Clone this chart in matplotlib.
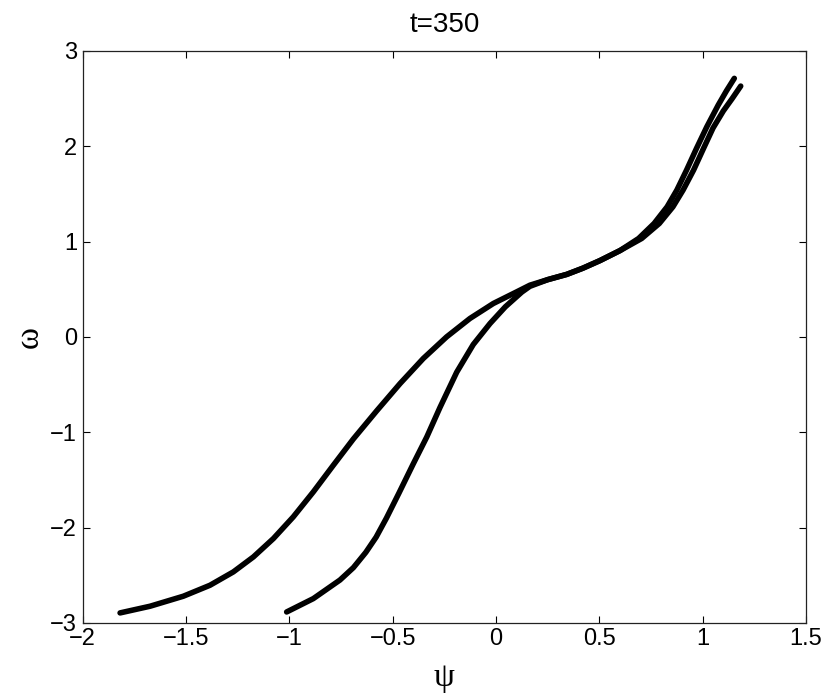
import matplotlib
matplotlib.use("Agg")
import matplotlib.pyplot as plt

# outer branch (starts at psi ~ -1.8)
psi_a = [-1.819, -1.674, -1.513, -1.384, -1.271, -1.174, -1.077, -0.981, -0.884, -0.787,
         -0.690, -0.577, -0.464, -0.352, -0.239, -0.126, -0.013, 0.100, 0.164, 0.25,
         0.342, 0.42, 0.503, 0.600, 0.690, 0.765, 0.828, 0.875, 0.922, 0.970,
         1.020, 1.075, 1.115, 1.153]
omega_a = [-2.895, -2.825, -2.72, -2.605, -2.465, -2.308, -2.115, -1.888, -1.626, -1.346,
           -1.07, -0.775, -0.489, -0.227, 0.0, 0.193, 0.350, 0.472, 0.542, 0.60,
           0.655, 0.72, 0.80, 0.905, 1.032, 1.189, 1.364, 1.539, 1.749, 1.976,
           2.203, 2.43, 2.58, 2.711]

# inner branch (starts at psi ~ -1.0)
psi_b = [-1.013, -0.884, -0.755, -0.69, -0.63, -0.58, -0.53, -0.47, -0.40, -0.335,
         -0.271, -0.190, -0.110, -0.029, 0.045, 0.125, 0.164, 0.25, 0.342, 0.42,
         0.503, 0.600, 0.705, 0.790, 0.856, 0.905, 0.956, 1.004, 1.050, 1.100,
         1.143, 1.184]
omega_b = [-2.885, -2.745, -2.55, -2.42, -2.26, -2.10, -1.90, -1.64, -1.33, -1.05,
           -0.74, -0.37, -0.08, 0.140, 0.315, 0.47, 0.530, 0.60, 0.655, 0.72,
           0.80, 0.905, 1.032, 1.189, 1.364, 1.539, 1.749, 1.976, 2.19, 2.37,
           2.50, 2.63]

xticks = [-2, -1.5, -1, -0.5, 0, 0.5, 1, 1.5]
yticks = [-3, -2, -1, 0, 1, 2, 3]

plt.rcParams['font.family'] = ['Liberation Sans', 'DejaVu Sans']

fig = plt.figure(figsize=(8.3, 6.96), dpi=100)
ax = fig.add_axes([0.0996, 0.105, 0.8715, 0.822])

for x, y in [(psi_a, omega_a), (psi_b, omega_b)]:
    ax.plot(x, y, color='black', linewidth=4,
            solid_capstyle='round', solid_joinstyle='round')

ax.set_xlim(-2, 1.5)
ax.set_ylim(-3, 3)
ax.set_xticks(xticks)
ax.set_yticks(yticks)
ax.set_xticklabels(['\u2212%g' % abs(v) if v < 0 else '%g' % v for v in xticks])
ax.set_yticklabels(['\u2212%g' % abs(v) if v < 0 else '%g' % v for v in yticks])
ax.tick_params(direction='in', length=5, width=0.8, top=True, right=True,
               labelsize=17, pad=4)
for s in ax.spines.values():
    s.set_linewidth(0.9)
    s.set_color('#222222')

ax.set_title('t=350', fontsize=20, pad=13.5)
ax.set_xlabel('\u03c8', fontsize=24, family=['Liberation Serif', 'DejaVu Serif'], labelpad=9)
ax.set_ylabel('\u03c9', fontsize=24, family=['Liberation Serif', 'DejaVu Serif'], labelpad=4)

fig.savefig('out.png', dpi=100, facecolor='white')
